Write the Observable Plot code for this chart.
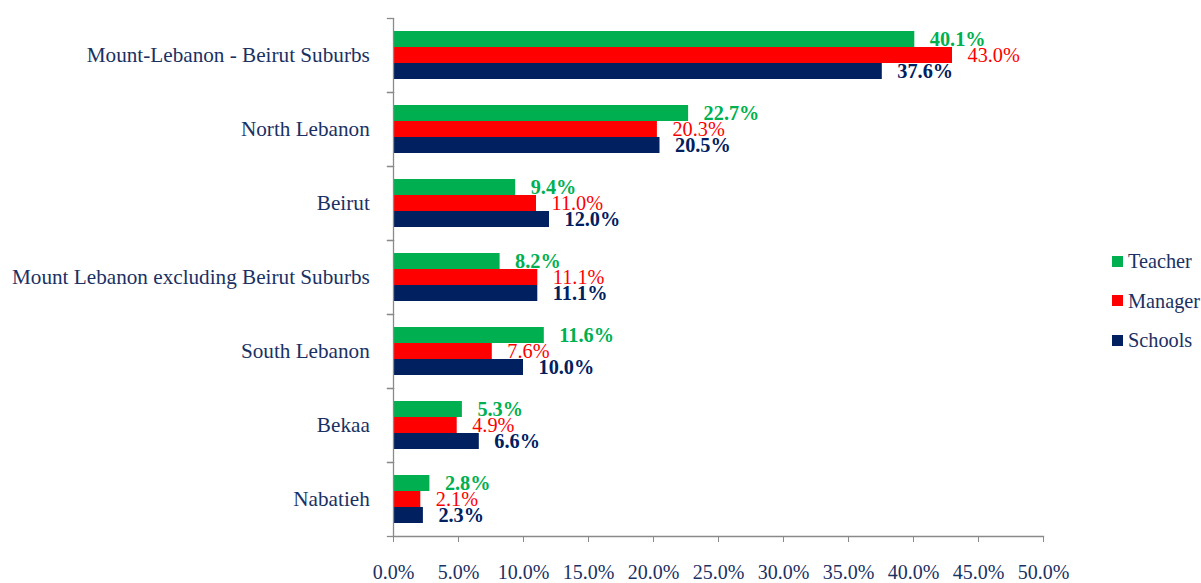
<!DOCTYPE html>
<html><head><meta charset="utf-8">
<script src="https://cdn.jsdelivr.net/npm/d3@7"></script>
<script src="https://cdn.jsdelivr.net/npm/@observablehq/plot@0.6"></script>
<style>
body{margin:0;background:#fff;}
#wrap{position:relative;width:1201px;height:583px;overflow:hidden;font-family:"Liberation Serif","Times New Roman",serif;}
#legend{position:absolute;left:1112px;top:251px;color:#1a3163;font-size:20.3px;line-height:20px;}
#legend .row{display:flex;align-items:center;height:20px;margin-bottom:19.5px;white-space:nowrap;}
#legend .sw{width:11px;height:11px;margin-right:5px;flex:none;}
</style></head><body><div id="wrap"></div>
<script>
const categories = ["Mount-Lebanon - Beirut Suburbs","North Lebanon","Beirut","Mount Lebanon excluding Beirut Suburbs","South Lebanon","Bekaa","Nabatieh"];
const series = ["Teacher","Manager","Schools"];
const teacher = [40.1, 22.7, 9.4, 8.2, 11.6, 5.3, 2.8];
const manager = [43.0, 20.3, 11.0, 11.1, 7.6, 4.9, 2.1];
const schools = [37.6, 20.5, 12.0, 11.1, 10.0, 6.6, 2.3];
const xTicks = [0, 5, 10, 15, 20, 25, 30, 35, 40, 45, 50];
const colors = ["#00B050", "#FF0000", "#002060"];

const textColor = "#1a3163";
const axisColor = "#8a8a8a";
const W = 1201, H = 583, ML = 393, MR = 158, MT = 15, MB = 44;
const innerW = W - ML - MR;
const fmt = d => d.toFixed(1) + "%";

const values = [teacher, manager, schools];
const data = categories.flatMap((c, i) => series.map((s, j) => ({category: c, series: s, value: values[j][i]})));

const chart = Plot.plot({
  width: W, height: H, marginLeft: ML, marginRight: MR, marginTop: MT, marginBottom: MB,
  style: {fontFamily: '"Liberation Serif","Times New Roman",serif', background: "white", color: textColor, overflow: "visible"},
  x: {domain: [0, 50]},
  y: {domain: series, paddingInner: 0, paddingOuter: 0.77, axis: null},
  fy: {domain: categories, padding: 0},
  color: {domain: series, range: colors},
  marks: [
    Plot.barX(data, {x: "value", y: "series", fy: "category", fill: "series"}),
    Plot.ruleX([0], {stroke: axisColor, strokeWidth: 1.3}),
    Plot.frame({anchor: "top", stroke: axisColor, strokeWidth: 1.3, insetLeft: -6, insetRight: innerW}),
    Plot.frame({anchor: "bottom", stroke: axisColor, strokeWidth: 1.3, insetLeft: -6, insetRight: innerW}),
    Plot.frame({anchor: "bottom", stroke: axisColor, strokeWidth: 1.3, facetAnchor: "bottom"}),
    Plot.axisX({ticks: xTicks, tickFormat: fmt, tickSize: 6, tickPadding: 22.5, fontSize: 20, stroke: axisColor, label: null}),
    Plot.axisFy({anchor: "left", tickSize: 0, tickPadding: 23.7, fontSize: 21.2, label: null}),
    Plot.text(data.filter(d => d.series !== "Manager"), {x: "value", y: "series", fy: "category", text: d => fmt(d.value), fill: "series", fontWeight: "bold", textAnchor: "start", dx: 15, fontSize: 20.3}),
    Plot.text(data.filter(d => d.series === "Manager"), {x: "value", y: "series", fy: "category", text: d => fmt(d.value), fill: "series", textAnchor: "start", dx: 15, fontSize: 20.3})
  ]
});
const wrap = document.getElementById("wrap");
wrap.appendChild(chart);

const legend = document.createElement("div");
legend.id = "legend";
series.forEach((s, i) => {
  const row = document.createElement("div");
  row.className = "row";
  const sw = document.createElement("span");
  sw.className = "sw";
  sw.style.background = colors[i];
  const lab = document.createElement("span");
  lab.textContent = s;
  row.appendChild(sw); row.appendChild(lab);
  legend.appendChild(row);
});
wrap.appendChild(legend);
</script>
</body></html>
